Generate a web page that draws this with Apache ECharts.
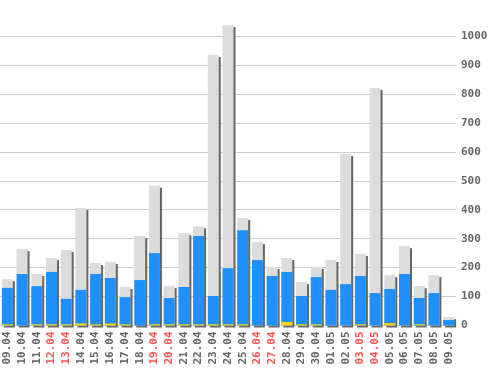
<!DOCTYPE html>
<html><head><meta charset="utf-8">
<script src="https://cdn.jsdelivr.net/npm/echarts@6/dist/echarts.min.js"></script>
<style>html,body{margin:0;padding:0;background:#fff}#c{width:498px;height:370px}</style>
</head><body><div id="c"></div>
<script>
const categories = ['09.04','10.04','11.04','12.04','13.04','14.04','15.04','16.04','17.04','18.04','19.04','20.04','21.04','22.04','23.04','24.04','25.04','26.04','27.04','28.04','29.04','30.04','01.05','02.05','03.05','04.05','05.05','06.05','07.05','08.05','09.05'];
const weekend = ['12.04','13.04','19.04','20.04','26.04','27.04','03.05','04.05'];
const totalValues = [160,264,178,233,261,406,216,219,133,309,483,136,319,343,934,1038,371,288,202,233,150,202,226,592,247,820,174,274,136,174,29];
const blueValues = [130,178,136,185,92,123,178,164,98,157,250,95,133,309,102,198,329,226,171,185,102,167,123,143,171,112,126,178,95,112,19];
const yellowValues = [4,0,4,4,4,7,4,7,4,0,4,4,4,4,4,4,4,0,0,12,4,4,0,0,4,0,8,0,4,0,0];
const yTicks = [0,100,200,300,400,500,600,700,800,900,1000];

const chart = echarts.init(document.getElementById('c'), null, {renderer:'canvas'});
const font = '"DejaVu Sans Mono", monospace';
chart.setOption({
  animation:false,
  grid:{left:-2, width:458, top:36, bottom:44.5, containLabel:false},
  xAxis:{type:'category', data:categories,
    axisLine:{show:false}, axisTick:{show:false},
    axisLabel:{rotate:90, interval:0, margin:6, fontFamily:font, fontSize:11, fontWeight:'bold',
      color:(v)=> weekend.includes(v) ? '#ff5555' : '#666666'}},
  yAxis:{type:'value', position:'right', min:yTicks[0], max:yTicks[yTicks.length-1], interval:100,
    axisLine:{show:false}, axisTick:{show:false},
    axisLabel:{margin:5, fontFamily:font, fontSize:11, fontWeight:'bold', color:'#666666',
      formatter:(v)=>String(v)},
    splitLine:{lineStyle:{color:'#cccccc', width:1}}},
  series:[
    {type:'bar', data:totalValues, barWidth:11, barGap:'-100%', clip:false,
      itemStyle:{color:'#dcdcdc', shadowColor:'#666666', shadowOffsetX:2, shadowOffsetY:2, shadowBlur:0}},
    {type:'bar', data:blueValues, barWidth:11, barGap:'-100%', clip:false, itemStyle:{color:'#1e90ff'}},
    {type:'bar', data:yellowValues, barWidth:11, barGap:'-100%', clip:false, itemStyle:{color:'#ffd700'}}
  ]
});
</script></body></html>
